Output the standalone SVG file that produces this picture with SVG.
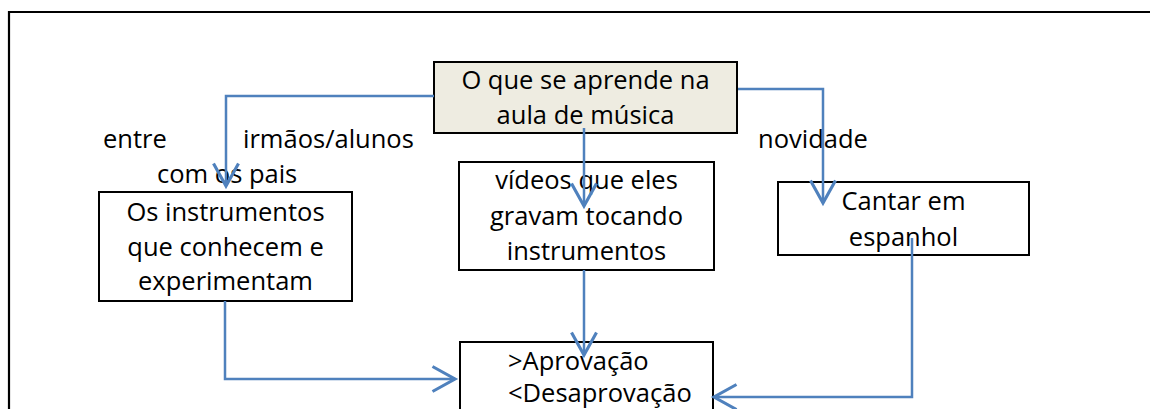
<svg xmlns="http://www.w3.org/2000/svg" width="1150" height="409" viewBox="0 0 1150 409">
<style>
.box{fill:#ffffff;stroke:#000000;stroke-width:2}
.top{fill:#EEECE1;stroke:#000000;stroke-width:2}
.t{font-family:"Open Sans","Liberation Sans",sans-serif;font-size:25.5px;fill:#000000}
.c{text-anchor:middle}
.conn{fill:none;stroke:#4F81BD;stroke-width:2.5;marker-end:url(#arr)}
</style>
<defs>
<marker id="arr" markerUnits="userSpaceOnUse" markerWidth="30" markerHeight="30" refX="0" refY="0" viewBox="-20 -12 22 24" orient="auto">
<path d="M-18,-10 L0,0 L-18,10" fill="none" stroke="#4F81BD" stroke-width="2.5"/>
</marker>
</defs>
<rect width="1150" height="409" fill="#ffffff"/>
<g id="frame">
<path d="M9,420 L9,12 L1152,12" fill="none" stroke="#000000" stroke-width="2.2"/>
</g>
<g id="node-top">
<rect class="top" x="434" y="62" width="303" height="71"/>
<text class="t c" x="585.5" y="89">O que se aprende na</text>
<text class="t c" x="585.5" y="124">aula de música</text>
</g>
<g id="node-instrumentos">
<rect class="box" x="99" y="192" width="253" height="109"/>
<text class="t c" x="225.5" y="221">Os instrumentos</text>
<text class="t c" x="225.5" y="256">que conhecem e</text>
<text class="t c" x="225.5" y="290">experimentam</text>
</g>
<g id="node-videos">
<rect class="box" x="459" y="162" width="255" height="108"/>
<text class="t c" x="586.5" y="189">vídeos que eles</text>
<text class="t c" x="586.5" y="225">gravam tocando</text>
<text class="t c" x="586.5" y="260">instrumentos</text>
</g>
<g id="node-cantar">
<rect class="box" x="778" y="182" width="251" height="73"/>
<text class="t c" x="903.5" y="210">Cantar em</text>
<text class="t c" x="903.5" y="246">espanhol</text>
</g>
<g id="node-aprovacao">
<rect class="box" x="460" y="342" width="253" height="80"/>
<text class="t" x="508" y="370">&gt;Aprovação</text>
<text class="t" x="508" y="402">&lt;Desaprovação</text>
</g>
<g id="labels">
<text class="t" x="103" y="148">entre</text>
<text class="t" x="243" y="148">irmãos/alunos</text>
<text class="t" x="157" y="183">com os pais</text>
<text class="t" x="758" y="148">novidade</text>
</g>
<g id="connectors">
<path class="conn" d="M434,96 L226,96 L226,186"/>
<path class="conn" d="M584,128 L584,206"/>
<path class="conn" d="M738,89 L823,89 L823,203"/>
<path class="conn" d="M584,270 L584,355"/>
<path class="conn" d="M225,301 L225,379 L455,379"/>
<path class="conn" d="M912,238 L912,397 L714,397"/>
</g>
</svg>
